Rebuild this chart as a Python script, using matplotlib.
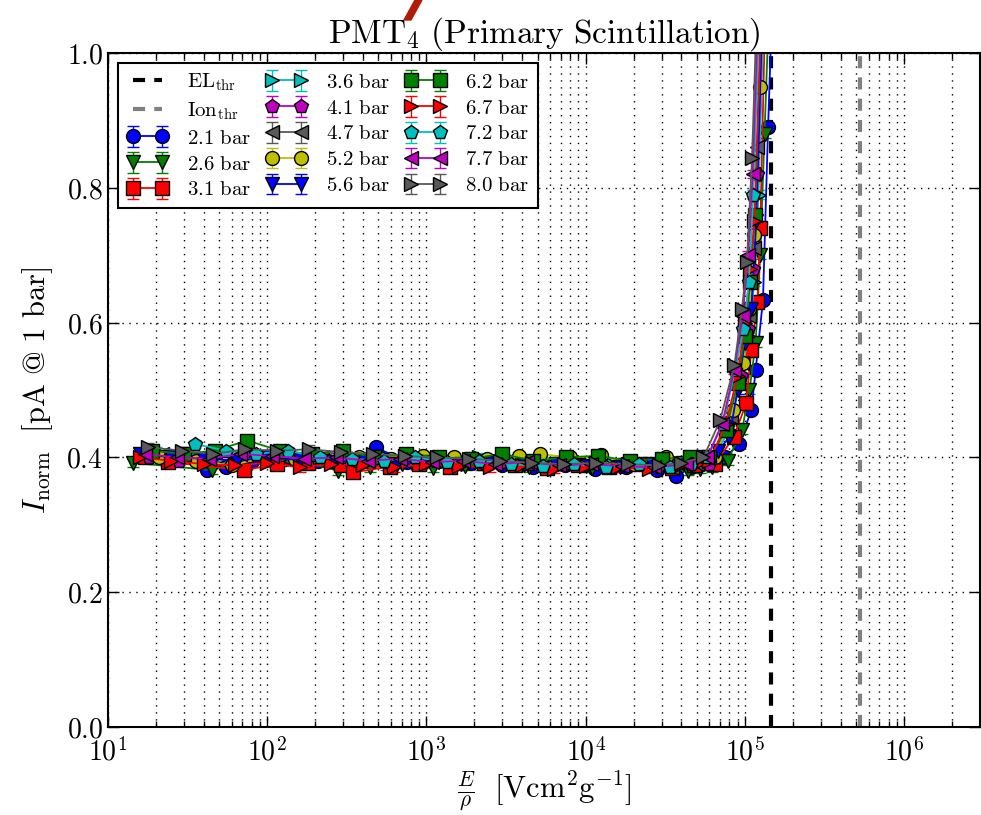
import numpy as np
import matplotlib
matplotlib.use('Agg')
import matplotlib.pyplot as plt
from matplotlib.ticker import FuncFormatter, LogLocator, MultipleLocator
from matplotlib.patches import Polygon

plt.rcParams['mathtext.fontset'] = 'cm'
plt.rcParams['font.family'] = 'serif'
plt.rcParams['font.serif'] = ['DejaVu Serif']

# E/rho [V cm^2 / g] and normalised current for each pressure
x_21 = [42, 55, 80, 130, 210, 330, 480, 760, 1200, 1900, 3000, 4700, 7400, 11500, 18000, 28000, 37000,
        46000, 60000, 75000, 92000, 110000, 117000, 130000, 140000, 148000]
y_21 = [0.381, 0.386, 0.395, 0.398, 0.394, 0.392, 0.415, 0.393, 0.396, 0.392, 0.389, 0.386, 0.388, 0.383, 0.385, 0.381, 0.372,
        0.385, 0.39, 0.40, 0.42, 0.47, 0.53, 0.633, 0.89, 1.06]
x_26 = [14.3, 45, 70, 110, 175, 280, 440, 700, 1100, 1750, 2800, 4400, 7000, 11000, 17500, 28000, 44000, 52000,
        62000, 78000, 96000, 107000, 117000, 125000, 133000, 141000]
y_26 = [0.392, 0.381, 0.395, 0.40, 0.393, 0.38, 0.385, 0.39, 0.384, 0.387, 0.392, 0.385, 0.39, 0.384, 0.388, 0.386, 0.38, 0.383,
        0.385, 0.395, 0.44, 0.50, 0.57, 0.70, 0.88, 1.05]
x_31 = [17, 24, 72, 115, 180, 290, 348, 590, 900, 1400, 2300, 3600, 5700, 9000, 14000, 22000, 35000, 48000,
        65000, 85000, 102000, 110000, 120000, 125000, 133000]
y_31 = [0.40, 0.393, 0.381, 0.39, 0.392, 0.388, 0.378, 0.386, 0.39, 0.385, 0.392, 0.388, 0.384, 0.389, 0.386, 0.39, 0.384, 0.388,
        0.39, 0.43, 0.48, 0.56, 0.63, 0.74, 1.02]
x_36 = [20, 33, 52, 85, 135, 215, 340, 540, 860, 1350, 2150, 3400, 5400, 8600, 13500, 21500, 34000, 50000,
        63000, 80000, 95000, 105000, 115000, 122000, 130000]
y_36 = [0.41, 0.405, 0.41, 0.402, 0.405, 0.40, 0.398, 0.402, 0.397, 0.395, 0.40, 0.398, 0.395, 0.392, 0.395, 0.39, 0.395, 0.40,
        0.40, 0.44, 0.52, 0.58, 0.66, 0.79, 1.02]
x_41 = [18, 28, 45, 72, 115, 180, 290, 460, 730, 1150, 1850, 2900, 4600, 7300, 11500, 18500, 29000, 45000,
        60000, 78000, 94000, 105000, 112000, 120000, 128000]
y_41 = [0.40, 0.395, 0.40, 0.405, 0.41, 0.405, 0.40, 0.398, 0.40, 0.395, 0.398, 0.393, 0.39, 0.395, 0.392, 0.39, 0.388, 0.392,
        0.39, 0.45, 0.52, 0.59, 0.68, 0.82, 1.03]
x_47 = [22, 34, 55, 88, 140, 220, 350, 560, 890, 1400, 2200, 3500, 5600, 8900, 14000, 22000, 35000, 50000,
        63000, 82000, 96000, 106000, 114000, 120000, 127000]
y_47 = [0.405, 0.398, 0.392, 0.40, 0.395, 0.40, 0.392, 0.388, 0.395, 0.39, 0.388, 0.392, 0.387, 0.39, 0.385, 0.388, 0.384, 0.39,
        0.40, 0.46, 0.54, 0.61, 0.71, 0.86, 1.03]
x_52 = [21, 36, 60, 95, 150, 240, 380, 600, 950, 1500, 2400, 3800, 5200, 8000, 12500, 20000, 32000, 48000,
        65000, 84000, 98000, 107000, 115000, 124000, 130000]
y_52 = [0.40, 0.395, 0.388, 0.40, 0.398, 0.395, 0.40, 0.397, 0.402, 0.40, 0.398, 0.402, 0.405, 0.40, 0.403, 0.39, 0.40, 0.395,
        0.40, 0.47, 0.54, 0.62, 0.73, 0.95, 1.04]
x_56 = [16, 25, 40, 65, 100, 160, 260, 410, 650, 1000, 1650, 2600, 4100, 6500, 10000, 16500, 26000, 41000,
        55000, 68000, 80000, 90000, 100000, 110000, 118000, 128000]
y_56 = [0.405, 0.40, 0.398, 0.395, 0.40, 0.396, 0.393, 0.395, 0.39, 0.393, 0.39, 0.392, 0.388, 0.39, 0.387, 0.385, 0.39, 0.392,
        0.40, 0.41, 0.43, 0.50, 0.57, 0.62, 0.75, 1.03]
x_62 = [19, 30, 47, 75, 120, 190, 300, 470, 750, 1200, 1900, 3000, 4700, 7500, 12000, 19000, 30000, 45000,
        60000, 76000, 90000, 100000, 108000, 116000, 125000]
y_62 = [0.41, 0.405, 0.41, 0.425, 0.41, 0.405, 0.41, 0.40, 0.405, 0.40, 0.398, 0.405, 0.395, 0.40, 0.402, 0.395, 0.398, 0.40,
        0.40, 0.44, 0.51, 0.58, 0.66, 0.76, 1.02]
x_67 = [15.8, 25, 40, 63, 100, 160, 250, 400, 630, 1000, 1600, 2500, 4000, 6300, 10000, 16000, 25000, 40000,
        50000, 60000, 76000, 90000, 100000, 108000, 115000, 125000]
y_67 = [0.40, 0.395, 0.39, 0.388, 0.392, 0.385, 0.39, 0.388, 0.385, 0.39, 0.387, 0.385, 0.388, 0.383, 0.387, 0.385, 0.383, 0.388,
        0.39, 0.395, 0.45, 0.52, 0.60, 0.68, 0.75, 1.02]
x_72 = [35, 55, 85, 135, 215, 340, 540, 850, 1350, 2150, 3400, 5400, 8500, 13500, 21500, 34000, 46000,
        58000, 73000, 87000, 98000, 106000, 113000, 122000]
y_72 = [0.42, 0.41, 0.405, 0.41, 0.40, 0.398, 0.395, 0.40, 0.393, 0.395, 0.39, 0.387, 0.39, 0.385, 0.39, 0.385, 0.39,
        0.40, 0.45, 0.53, 0.59, 0.66, 0.79, 1.02]
x_77 = [17, 27, 43, 68, 108, 170, 270, 430, 680, 1080, 1700, 2700, 4300, 6800, 10800, 17000, 27000, 43000,
        58000, 72000, 86000, 97000, 105000, 112000, 120000]
y_77 = [0.405, 0.40, 0.398, 0.405, 0.402, 0.398, 0.40, 0.395, 0.398, 0.393, 0.395, 0.39, 0.393, 0.388, 0.39, 0.387, 0.385, 0.39,
        0.40, 0.45, 0.53, 0.61, 0.70, 0.82, 1.03]
x_80 = [17.8, 29, 46, 73, 116, 184, 290, 460, 730, 1160, 1840, 2900, 4600, 7300, 11600, 18400, 29000, 40000,
        55000, 70000, 86000, 96000, 103000, 111000, 118000]
y_80 = [0.415, 0.41, 0.405, 0.412, 0.41, 0.412, 0.408, 0.405, 0.402, 0.40, 0.398, 0.395, 0.392, 0.39, 0.392, 0.39, 0.388, 0.392,
        0.40, 0.455, 0.537, 0.62, 0.69, 0.844, 1.04]

pressures = ['2.1', '2.6', '3.1', '3.6', '4.1', '4.7', '5.2', '5.6', '6.2', '6.7', '7.2', '7.7', '8.0']
xs = [x_21, x_26, x_31, x_36, x_41, x_47, x_52, x_56, x_62, x_67, x_72, x_77, x_80]
ys = [y_21, y_26, y_31, y_36, y_41, y_47, y_52, y_56, y_62, y_67, y_72, y_77, y_80]
y_err = 0.006

el_thr = 1.46e5
ion_thr = 5.3e5

colors = ['b', (0, 0.5, 0), 'r', (0, 0.75, 0.75), (0.75, 0, 0.75), '0.35', (0.75, 0.75, 0),
          'b', (0, 0.5, 0), 'r', (0, 0.75, 0.75), (0.75, 0, 0.75), '0.35']
markers = ['o', 'v', 's', '>', 'p', '<', 'o', 'v', 's', '>', 'p', '<', '>']

fig = plt.figure(figsize=(9.81, 8.15), dpi=100)
ax = fig.add_axes([0.110, 0.108, 0.889, 0.827])

h_el, = ax.plot([el_thr, el_thr], [0, 1.0], color='k', lw=3, dashes=(2.9, 2.2),
                label=r'$\mathrm{EL_{thr}}$')
h_ion, = ax.plot([ion_thr, ion_thr], [0, 1.0], color='0.5', lw=3, dashes=(2.9, 2.2),
                 label=r'$\mathrm{Ion_{thr}}$')

handles = [h_el, h_ion]
for x, y, p, c, m in zip(xs, ys, pressures, colors, markers):
    h = ax.errorbar(x, y, yerr=y_err, color=c, marker=m, ms=10, mec='k', mew=1,
                    lw=1.3, capsize=4, elinewidth=1, label=r'$\mathrm{%s\ bar}$' % p)
    handles.append(h)

ax.set_xscale('log')
ax.set_xlim(10, 3e6)
ax.set_ylim(0, 1.0)
ax.yaxis.set_major_locator(MultipleLocator(0.2))
ax.xaxis.set_major_locator(LogLocator(base=10))
ax.xaxis.set_minor_locator(LogLocator(base=10, subs=np.arange(2, 10)))
ax.xaxis.set_major_formatter(FuncFormatter(lambda v, p: r'$10^{%d}$' % round(np.log10(v))))
ax.yaxis.set_major_formatter(FuncFormatter(lambda v, p: r'$%.1f$' % v))
ax.tick_params(which='both', direction='in', top=True, right=True, labelsize=20)
ax.tick_params(which='major', length=8, width=1)
ax.tick_params(which='minor', length=4, width=1)
ax.tick_params(axis='x', pad=8)

ax.grid(True, which='major', axis='both', color='k', ls=(0, (1, 4)), lw=1)
ax.grid(True, which='minor', axis='x', color='k', ls=(0, (1, 4)), lw=1)
for s in ax.spines.values():
    s.set_linewidth(1.5)

ax.set_title(r'$\mathrm{PMT_4\ (Primary\ Scintillation)}$', fontsize=24, pad=4)
ax.set_ylabel(r'$I_\mathrm{norm}\ \ [\mathrm{pA\ @\ 1\ bar}]$', fontsize=22, labelpad=8)
ax.set_xlabel(r'$\frac{E}{\rho}\ \ [\mathrm{Vcm^2g^{-1}}]$', fontsize=22, labelpad=2)

leg = ax.legend(handles=handles, loc='upper left', ncol=3, fontsize=15, numpoints=2,
                fancybox=False, framealpha=1, edgecolor='k', borderaxespad=0.5,
                columnspacing=0.7, handletextpad=0.9, labelspacing=0.33, handlelength=2.0)
leg.get_frame().set_linewidth(1.5)

# red mark above the title
fig.patches.append(Polygon([[404 / 981, 1 - 20 / 815], [411 / 981, 1 - 20 / 815],
                            [422 / 981, 1.0], [415 / 981, 1.0]],
                           closed=True, transform=fig.transFigure, color='#b01c08'))

fig.savefig('out.png', dpi=100)
